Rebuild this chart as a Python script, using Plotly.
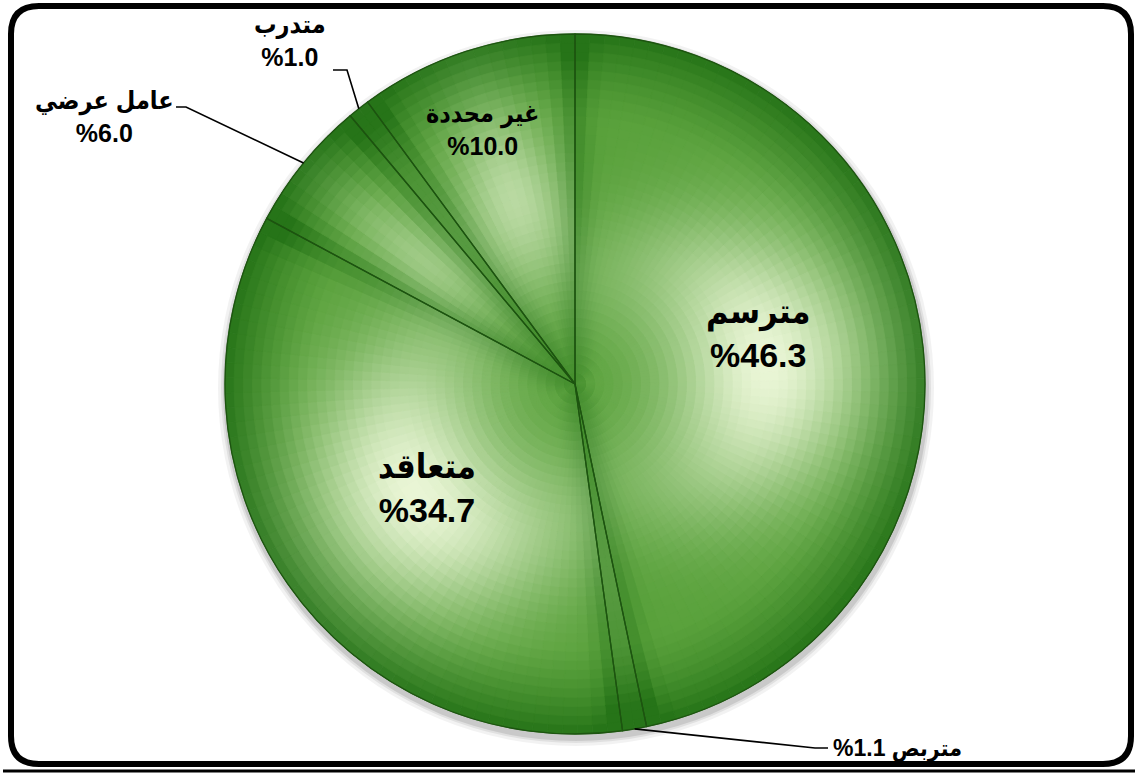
import numpy as np
import plotly.graph_objects as go

# ---------------- data ----------------
categories = ["مترسم", "متربص", "متعاقد", "عامل عرضي", "متدرب", "غير محددة"]
values = [46.3, 1.1, 34.7, 6.0, 1.0, 10.0]
pct_labels = ["%46.3", "%1.1", "%34.7", "%6.0", "%1.0", "%10.0"]

# ---------------- geometry / style ----------------
W, H = 1135, 773
CX, CY, R = 575, 384, 350
FONT = "Arial, 'Liberation Sans', 'DejaVu Sans Condensed', 'DejaVu Sans', sans-serif"


def P(x, y):
    return x / W, 1 - y / H


def domain(cx, cy, r):
    return dict(x=[(cx - r) / W, (cx + r) / W], y=[1 - (cy + r) / H, 1 - (cy - r) / H])


vals = np.array(values, dtype=float)
frac = vals / vals.sum()
start = np.concatenate([[0], np.cumsum(frac)[:-1]]) * 360.0
width = frac * 360.0
mid = start + width / 2


def polar(theta_deg, r):
    t = np.radians(theta_deg)
    return CX + r * np.sin(t), CY - r * np.cos(t)


c_dark = np.array([38, 116, 24])
c_mid = np.array([90, 162, 60])
c_light = np.array([234, 246, 214])


def shade(t, theta, i):
    """t: radius fraction, theta: angle (deg) inside slice i"""
    half = width[i] / 2
    d_ang = np.radians(theta - mid[i])
    rr = max(t, 0.02) * R
    d_arc = abs(d_ang) * rr
    half_arc = np.radians(half) * 0.55 * R
    sig_a = min(1.0 * half_arc, 170.0)
    light = np.exp(-((t - 0.55) / 0.32) ** 2) * np.exp(-(d_arc / max(sig_a, 1e-3)) ** 2)
    light *= min(1.0, (width[i] / 70.0)) ** 0.5
    rim = np.clip((t - 0.74) / 0.26, 0, 1) ** 1.5
    d_edge = (np.radians(half) - abs(d_ang)) * rr
    edge = np.exp(-(d_edge / 16.0) ** 2) * 0.45
    b = np.clip(1 - rim - edge, 0, 1)
    base = c_dark + (c_mid - c_dark) * b
    col = base + (c_light - base) * np.clip(light, 0, 1) ** 1.25
    return "rgb(%d,%d,%d)" % tuple(np.clip(col, 0, 255).astype(int))


fig = go.Figure()

# soft shadow
for dr_, a in [(8, 0.05), (5, 0.07), (3, 0.10)]:
    fig.add_trace(go.Pie(values=[1], marker=dict(colors=["rgba(0,0,0,%.2f)" % a], line=dict(width=0)),
                         domain=domain(CX + 1, CY + 4, R + dr_), textinfo="none", hoverinfo="skip",
                         showlegend=False, sort=False))

# gradient layers (decoration derived from the data slices)
step_deg = 2.5
layers = np.linspace(1.0, 0.03, 38)
dr = layers[0] - layers[1]
for rk in layers:
    t = rk - dr / 2
    sub_vals, sub_cols = [], []
    for i in range(len(vals)):
        n = max(2, int(np.ceil(width[i] / step_deg)))
        for j in range(n):
            th = start[i] + width[i] * (j + 0.5) / n
            sub_vals.append(vals[i] / n)
            sub_cols.append(shade(t, th, i))
    fig.add_trace(go.Pie(values=sub_vals, sort=False, direction="clockwise", rotation=0,
                         marker=dict(colors=sub_cols, line=dict(color=sub_cols, width=0.8)),
                         domain=domain(CX, CY, R * rk), textinfo="none", hoverinfo="skip",
                         showlegend=False))

# data pie (outlines)
fig.add_trace(go.Pie(values=values, labels=categories, sort=False, direction="clockwise", rotation=0,
                     marker=dict(colors=["rgba(0,0,0,0)"] * len(values),
                                 line=dict(color="#1d5410", width=1.3)),
                     domain=domain(CX, CY, R), textinfo="none", showlegend=False,
                     hovertemplate="%{label}: %{value}%<extra></extra>"))

annotations = []
shapes = []

# inside labels: (index, radius fraction, angle offset, font size)
inside = [(0, 0.545, -9.7, 34), (2, 0.517, -0.3, 34), (5, 0.773, -1.9, 25)]
for i, rf, dth, fs in inside:
    x, y = polar(mid[i] + dth, R * rf)
    px, py = P(x, y)
    annotations.append(dict(x=px, y=py, xref="paper", yref="paper", showarrow=False,
                            text="<b>%s</b><br><b>%s</b>" % (categories[i], pct_labels[i]),
                            font=dict(family=FONT, size=fs, color="black"),
                            xanchor="center", yanchor="middle", align="center"))

# outside labels with leader lines: (index, elbow, end, label anchor, xanchor, font size, one_line)
outside = [
    (4, (347, 70), (333, 70), (290, 40), "center", 25, False),
    (3, (186, 107), (176, 107), (104, 116), "center", 25, False),
    (1, (815, 748), (828, 748), (831, 748), "left", 23, True),
]
for i, elb, end, lc, xa, fs, one in outside:
    sx, sy = polar(mid[i], R)
    pts = [(sx, sy), elb, end]
    path = "M " + " L ".join("%.5f,%.5f" % P(*p) for p in pts)
    shapes.append(dict(type="path", path=path, xref="paper", yref="paper",
                       line=dict(color="black", width=1.6)))
    if one:
        txt = "<b>%s %s</b>" % (pct_labels[i], categories[i])
    else:
        txt = "<b>%s</b><br><b>%s</b>" % (categories[i], pct_labels[i])
    px, py = P(*lc)
    annotations.append(dict(x=px, y=py, xref="paper", yref="paper", showarrow=False, text=txt,
                            font=dict(family=FONT, size=fs, color="black"),
                            xanchor=xa, yanchor="middle", align="center"))

# rounded frame
x0, y0, x1, y1, rad = 11, 6, 1131, 764, 28
pts = [("M", (x0 + rad, y0)), ("L", (x1 - rad, y0)), ("Q", (x1, y0), (x1, y0 + rad)),
       ("L", (x1, y1 - rad)), ("Q", (x1, y1), (x1 - rad, y1)), ("L", (x0 + rad, y1)),
       ("Q", (x0, y1), (x0, y1 - rad)), ("L", (x0, y0 + rad)), ("Q", (x0, y0), (x0 + rad, y0))]
seg = []
for item in pts:
    cmd = item[0]
    seg.append(cmd + " " + " ".join("%.5f,%.5f" % P(*p) for p in item[1:]))
shapes.append(dict(type="path", path=" ".join(seg) + " Z", xref="paper", yref="paper",
                   line=dict(color="black", width=6)))
# bottom rule
bx0, by = P(3, 771)
bx1, _ = P(1135, 771)
shapes.append(dict(type="line", x0=bx0, x1=bx1, y0=by, y1=by, xref="paper", yref="paper",
                   line=dict(color="black", width=3)))

fig.update_layout(width=W, height=H, margin=dict(l=0, r=0, t=0, b=0),
                  paper_bgcolor="white", plot_bgcolor="white",
                  annotations=annotations, shapes=shapes, showlegend=False)

fig.write_html("out.html", config={"displayModeBar": False},
               post_script="document.body.style.margin='0px';document.body.style.overflow='hidden';")
